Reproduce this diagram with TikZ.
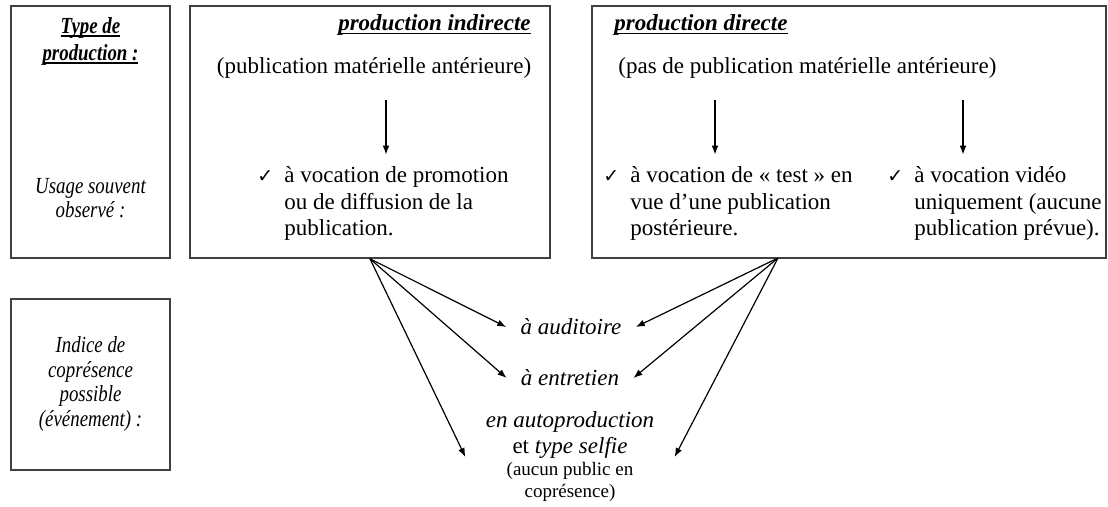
\documentclass[tikz,border=0pt]{standalone}
\usepackage{fontspec}
\setmainfont{Liberation Serif}
\newfontfamily\symfont{DejaVu Sans}
\newfontfamily\etroit[FakeStretch=0.82]{Liberation Serif}
\usepackage{tikz}
\usetikzlibrary{arrows.meta, positioning}
\tikzstyle{cadre} = [rectangle, draw=black!75, line width=0.8pt, inner sep=0pt]
\tikzstyle{texte} = [inner sep=0pt, font=\fontsize{11.5}{13.25}\selectfont]
\tikzstyle{gauche} = [inner sep=0pt, align=center, font=\etroit\fontsize{11.5}{12.2}\selectfont\itshape]
\tikzstyle{issue} = [inner ysep=0pt, inner xsep=7pt, font=\fontsize{11.5}{13}\selectfont\itshape]
\tikzstyle{arrow} = [line width=0.6pt, -{Latex[length=4.5pt,width=3.4pt]}]
\newcommand{\souligne}[1]{{\setbox0\hbox{#1}\rlap{\rule[-1.8pt]{\wd0}{0.6pt}}\box0}}
\newcommand{\coche}{\llap{{\symfont\fontsize{9.5}{9.5}\selectfont ✓}\hspace{5.5pt}}}
\newcommand{\petit}{\fontsize{9.5}{11}\selectfont}

\begin{document}
\begin{tikzpicture}[x=0.5pt, y=-0.5pt]
\useasboundingbox (0,0) rectangle (1108,507);
\node (typeprod) [cadre, minimum width=79.5pt, minimum height=126pt] at (90.5,132) {};
\node (indir) [cadre, minimum width=180pt, minimum height=126pt] at (370,132) {};
\node (direct) [cadre, minimum width=257pt, minimum height=126pt] at (849,132) {};
\node (indice) [cadre, minimum width=79.5pt, minimum height=85.5pt] at (90.5,384.5) {};

% colonne de gauche
\node (titre) [gauche, font=\etroit\fontsize{11.5}{13.5}\selectfont\bfseries\itshape] at (90.5,41) {\souligne{Type de}\\\souligne{production :}};
\node (usage) [gauche] at (90.5,198) {Usage souvent\\observé :};
\node (coprez) [gauche] at (90.5,384) {Indice de\\coprésence\\possible\\(événement) :};

\node (titind) [texte, anchor=east, font=\fontsize{11.5}{13.25}\selectfont\bfseries\itshape] at (531,25) {\souligne{production indirecte}};
\node (pubmat) [texte] at (374,68) {(publication matérielle antérieure)};
\node (promo) [texte, anchor=west, align=left] at (284,203.5) {\coche à vocation de promotion\\ou de diffusion de la\\publication.};

\node (titdir) [texte, anchor=west, font=\fontsize{11.5}{13.25}\selectfont\bfseries\itshape] at (614,25) {\souligne{production directe}};
\node (pasmat) [texte, anchor=west] at (618,68) {(pas de publication matérielle antérieure)};
\node (test) [texte, anchor=west, align=left] at (630,203.5) {\coche à vocation de «~test~» en\\vue d’une publication\\postérieure.};
\node (video) [texte, anchor=west, align=left] at (914,203.5) {\coche à vocation vidéo\\uniquement (aucune\\publication prévue).};

\coordinate (f1) at (386,100);
\coordinate (f2) at (715,100);
\coordinate (f3) at (963,100);
\draw [arrow, shorten >=5.8pt] (f1) -- (f1 |- promo.north);
\draw [arrow, shorten >=5.8pt] (f2) -- (f2 |- test.north);
\draw [arrow, shorten >=5.8pt] (f3) -- (f3 |- video.north);

% issues possibles
\node (audit) [issue] at (571,327) {à auditoire};
\node (entret) [issue] at (570,378) {à entretien};
\node (autoprod) [issue, inner xsep=10pt, align=center, font=\fontsize{11.5}{13}\selectfont] at (570,457)
  {\textit{en autoproduction}\\et \textit{type selfie}\\[-2pt]{\petit (aucun public en}\\[-2pt]{\petit coprésence)}};

\coordinate (dirpied) at (778,258);
\draw [arrow] (indir.south) -- (audit.west);
\draw [arrow] (indir.south) -- (entret.west);
\draw [arrow] (indir.south) -- (autoprod.west);
\draw [arrow] (dirpied) -- (audit.east);
\draw [arrow] (dirpied) -- (entret.east);
\draw [arrow] (dirpied) -- (autoprod.east);
\end{tikzpicture}
\end{document}
